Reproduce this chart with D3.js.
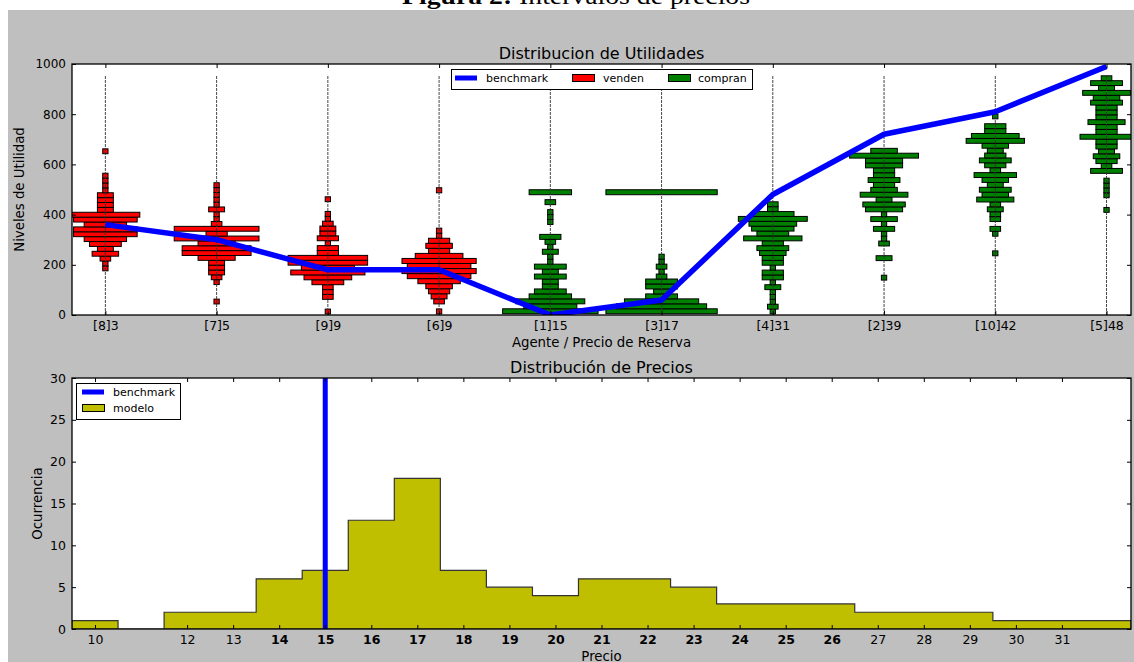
<!DOCTYPE html>
<html>
<head>
<meta charset="utf-8">
<script src="https://cdn.jsdelivr.net/npm/d3@7/dist/d3.min.js"></script>
<style>
  body { margin: 0; background: #fff; }
  svg { display: block; font-family: "DejaVu Sans", sans-serif; }
  .tick text { fill: #000; }
</style>
</head>
<body>
<div id="chart"></div>
<script>
// ---- data: top panel (utility distribution per agent) ----
var agents = ['[8]3', '[7]5', '[9]9', '[6]9', '[1]15', '[3]17', '[4]31', '[2]39', '[10]42', '[5]48']
var roles = ['venden', 'venden', 'venden', 'venden', 'compran', 'compran', 'compran', 'compran', 'compran', 'compran']
var benchmark = [360, 300, 180, 180, 0, 60, 480, 720, 810, 990]
// histogram range of each agent (utility), counts listed bottom -> top
var binLo = [176, 44, 4, 4, 5, 5, 4, 139, 236, 409]
var binHi = [662, 527, 471, 507, 499, 499, 451, 664, 801, 953]
var binCounts = [
  [1, 1, 2, 5, 3, 6, 8, 12, 12, 8, 12, 13, 3, 3, 3, 3, 1, 1, 1, 1, 0, 0, 0, 0, 1],
  [1, 0, 0, 0, 1, 2, 3, 3, 3, 7, 13, 13, 7, 16, 4, 16, 2, 1, 1, 3, 1, 1, 1, 1, 1],
  [1, 0, 0, 2, 2, 2, 6, 9, 14, 10, 15, 15, 4, 4, 1, 4, 3, 3, 2, 1, 1, 0, 0, 1],
  [1, 0, 2, 3, 4, 5, 8, 12, 14, 12, 14, 9, 4, 5, 4, 1, 1, 0, 0, 0, 0, 0, 0, 0, 1],
  [18, 10, 13, 8, 6, 3, 3, 6, 3, 6, 1, 1, 3, 1, 2, 4, 0, 0, 1, 1, 1, 0, 2, 0, 8],
  [21, 17, 14, 6, 3, 6, 6, 2, 1, 2, 1, 1, 0, 0, 0, 0, 0, 0, 0, 0, 0, 0, 0, 0, 21],
  [1, 2, 1, 1, 1, 3, 1, 4, 4, 1, 4, 4, 5, 6, 4, 11, 6, 8, 9, 13, 8, 2, 2],
  [1, 0, 0, 0, 3, 0, 0, 2, 1, 1, 4, 1, 5, 1, 7, 8, 3, 9, 5, 4, 6, 4, 4, 7, 7, 13, 5],
  [1, 0, 0, 0, 1, 2, 0, 2, 2, 3, 2, 7, 5, 6, 3, 5, 8, 2, 4, 6, 4, 3, 5, 11, 9, 4, 4, 0, 1],
  [1, 0, 0, 1, 1, 1, 1, 0, 6, 2, 4, 5, 3, 4, 4, 10, 4, 4, 7, 4, 4, 4, 6, 5, 9, 3, 6, 2]
]
var beanTop = 955
var utilTicks = [0, 200, 400, 600, 800, 1000]

// ---- data: bottom panel (price distribution) ----
var prices = [10, 11, 12, 13, 14, 15, 16, 17, 18, 19, 20, 21, 22, 23, 24, 25, 26, 27, 28, 29, 30, 31, 32]
var priceCounts = [1, 0, 2, 2, 6, 7, 13, 18, 7, 5, 4, 6, 6, 5, 3, 3, 3, 2, 2, 2, 1, 1, 1]
var priceTicks = [10, 12, 13, 14, 15, 16, 17, 18, 19, 20, 21, 22, 23, 24, 25, 26, 27, 28, 29, 30, 31]
var benchmarkPrice = 15
var countTicks = [0, 5, 10, 15, 20, 25, 30]

var W = 1134, H = 662
var svg = d3.select('#chart').append('svg')
  .attr('width', W).attr('height', H)

svg.append('rect').attr('x', 8).attr('y', 10).attr('width', W - 8).attr('height', H - 10).attr('fill', '#bfbfbf')

// figure caption, cut at the top of the page
var cap = svg.append('text')
  .attr('x', 402).attr('y', 4)
  .attr('textLength', 348).attr('lengthAdjust', 'spacingAndGlyphs')
  .style('font-family', '"Liberation Serif", "DejaVu Serif", serif')
  .style('font-size', '23px')
cap.append('tspan').style('font-weight', 'bold').text('Figura 2:')
cap.append('tspan').text(' Intervalos de precios')

var defs = svg.append('defs')

function frame(g, x0, y0, w, h, id) {
  defs.append('clipPath').attr('id', id)
    .append('rect').attr('x', x0).attr('y', y0).attr('width', w).attr('height', h)
  g.append('rect').attr('x', x0).attr('y', y0).attr('width', w).attr('height', h).attr('fill', '#fff')
}

function styleAxis(sel, fs) {
  sel.select('.domain').remove()
  sel.selectAll('.tick line').attr('stroke', '#000')
  sel.selectAll('.tick text').style('font-size', fs + 'px').style('font-family', '"DejaVu Sans", sans-serif')
}

// ================= top panel =================
var mTop = { l: 72, t: 64, r: 1131, b: 315 }
var gTop = svg.append('g')
frame(gTop, mTop.l, mTop.t, mTop.r - mTop.l, mTop.b - mTop.t, 'clipTop')

var x = d3.scaleLinear().domain([0.7, 10.22]).range([mTop.l, mTop.r])
var y = d3.scaleLinear().domain([0, 1000]).range([mTop.b, mTop.t])
var w = d3.scaleLinear().domain([0, 1]).range([0, 5.3])
var color = d3.scaleOrdinal().domain(['venden', 'compran']).range(['#ff0000', '#008000'])

var plotTop = gTop.append('g').attr('clip-path', 'url(#clipTop)')

agents.forEach(function(name, a) {
  var counts = binCounts[a]
  var step = (binHi[a] - binLo[a]) / counts.length
  var cx = x(a + 1)
  var bins = counts.map(function(c, i) {
    return { c: c, v0: binLo[a] + i * step, v1: binLo[a] + (i + 1) * step }
  }).filter(function(d) { return d.c > 0 })

  plotTop.append('g').selectAll('rect')
    .data(bins)
    .enter().append('rect')
    .attr('x', function(d) { return cx - w(d.c) / 2 })
    .attr('width', function(d) { return w(d.c) })
    .attr('y', function(d) { return y(d.v1) })
    .attr('height', function(d) { return y(d.v0) - y(d.v1) })
    .attr('fill', color(roles[a]))
    .attr('stroke', '#000')
    .attr('stroke-width', 1)
})

plotTop.append('g').selectAll('line')
  .data(agents)
  .enter().append('line')
  .attr('x1', function(d, i) { return x(i + 1) })
  .attr('x2', function(d, i) { return x(i + 1) })
  .attr('y1', y(0))
  .attr('y2', y(beanTop))
  .attr('stroke', '#333')
  .attr('stroke-width', 0.9)
  .attr('stroke-dasharray', '3,1')

// legend (white box hides the lines under it)
var lg = gTop.append('g')
lg.append('rect').attr('x', 451.5).attr('y', 69.5).attr('width', 301).attr('height', 20)
  .attr('fill', '#fff').attr('stroke', '#000')
lg.append('line').attr('x1', 455).attr('x2', 477).attr('y1', 78).attr('y2', 78)
  .attr('stroke', '#0000ff').attr('stroke-width', 5)
lg.append('text').attr('x', 486).attr('y', 82).style('font-size', '11px').text('benchmark')
lg.append('rect').attr('x', 572.5).attr('y', 74.5).attr('width', 22).attr('height', 7)
  .attr('fill', color('venden')).attr('stroke', '#000')
lg.append('text').attr('x', 603).attr('y', 82).style('font-size', '11px').text('venden')
lg.append('rect').attr('x', 668.5).attr('y', 74.5).attr('width', 22).attr('height', 7)
  .attr('fill', color('compran')).attr('stroke', '#000')
lg.append('text').attr('x', 698).attr('y', 82).style('font-size', '11px').text('compran')

plotTop.append('path')
  .datum(benchmark)
  .attr('fill', 'none')
  .attr('stroke', '#0000ff')
  .attr('stroke-width', 5.5)
  .attr('stroke-linejoin', 'round')
  .attr('d', d3.line().x(function(d, i) { return x(i + 1) }).y(function(d) { return y(d) }))

var catTicks = agents.map(function(d, i) { return i + 1 })
gTop.append('g').attr('transform', 'translate(0,' + mTop.b + ')')
  .call(d3.axisBottom(x).tickValues(catTicks).tickFormat(function(d) { return agents[d - 1] })
    .tickSizeInner(-4).tickSizeOuter(0).tickPadding(6))
  .call(styleAxis, 12.5)
gTop.append('g').attr('transform', 'translate(0,' + mTop.t + ')')
  .call(d3.axisTop(x).tickValues(catTicks).tickFormat('').tickSizeInner(-4).tickSizeOuter(0))
  .call(styleAxis, 12)
gTop.append('g').attr('transform', 'translate(' + mTop.l + ',0)')
  .call(d3.axisLeft(y).tickValues(utilTicks).tickFormat(d3.format('d'))
    .tickSizeInner(-4).tickSizeOuter(0).tickPadding(6))
  .call(styleAxis, 12)
gTop.append('g').attr('transform', 'translate(' + mTop.r + ',0)')
  .call(d3.axisRight(y).tickValues(utilTicks).tickFormat('').tickSizeInner(-4).tickSizeOuter(0))
  .call(styleAxis, 12)
gTop.append('rect').attr('x', mTop.l).attr('y', mTop.t).attr('width', mTop.r - mTop.l).attr('height', mTop.b - mTop.t)
  .attr('fill', 'none').attr('stroke', '#000').attr('stroke-width', 1.3)

gTop.append('text').attr('x', (mTop.l + mTop.r) / 2).attr('y', 58.5).attr('text-anchor', 'middle')
  .style('font-size', '16px').text('Distribucion de Utilidades')
gTop.append('text').attr('x', (mTop.l + mTop.r) / 2).attr('y', 347).attr('text-anchor', 'middle')
  .style('font-size', '13.3px').text('Agente / Precio de Reserva')
gTop.append('text').attr('transform', 'translate(23.5,' + (mTop.t + mTop.b) / 2 + ') rotate(-90)')
  .attr('text-anchor', 'middle').style('font-size', '13.3px').text('Niveles de Utilidad')

// ================= bottom panel =================
var mBot = { l: 72, t: 378, r: 1131, b: 629 }
var gBot = svg.append('g')
frame(gBot, mBot.l, mBot.t, mBot.r - mBot.l, mBot.b - mBot.t, 'clipBot')

var xp = d3.scaleLinear().domain([9.5, 32.5]).range([mBot.l, mBot.r])
var yp = d3.scaleLinear().domain([0, 30]).range([mBot.b, mBot.t])
var plotBot = gBot.append('g').attr('clip-path', 'url(#clipBot)')

// step-filled histogram outline
var pts = [[prices[0] - 0.5, 0]]
prices.forEach(function(p, i) {
  pts.push([p - 0.5, priceCounts[i]])
  pts.push([p + 0.5, priceCounts[i]])
})
pts.push([prices[prices.length - 1] + 0.5, 0])
plotBot.append('path')
  .datum(pts)
  .attr('fill', '#bfbf00')
  .attr('stroke', '#333')
  .attr('stroke-width', 1.2)
  .attr('d', d3.line().x(function(d) { return xp(d[0]) }).y(function(d) { return yp(d[1]) }).curve(d3.curveLinearClosed))

plotBot.append('line')
  .attr('x1', xp(benchmarkPrice)).attr('x2', xp(benchmarkPrice))
  .attr('y1', yp(0)).attr('y2', yp(30))
  .attr('stroke', '#0000ff').attr('stroke-width', 5)

var lb = gBot.append('g')
lb.append('rect').attr('x', 76.5).attr('y', 383.5).attr('width', 104).attr('height', 36)
  .attr('fill', '#fff').attr('stroke', '#000')
lb.append('line').attr('x1', 82).attr('x2', 104).attr('y1', 392).attr('y2', 392)
  .attr('stroke', '#0000ff').attr('stroke-width', 5)
lb.append('text').attr('x', 113).attr('y', 396).style('font-size', '11px').text('benchmark')
lb.append('rect').attr('x', 82.5).attr('y', 404.5).attr('width', 22).attr('height', 7)
  .attr('fill', '#bfbf00').attr('stroke', '#000')
lb.append('text').attr('x', 113).attr('y', 412).style('font-size', '11px').text('modelo')

gBot.append('g').attr('transform', 'translate(0,' + mBot.b + ')')
  .call(d3.axisBottom(xp).tickValues(priceTicks).tickFormat(d3.format('d'))
    .tickSizeInner(-4).tickSizeOuter(0).tickPadding(6))
  .call(styleAxis, 12.5)
  .selectAll('.tick text')
  .style('font-weight', function(d) { return priceCounts[prices.indexOf(d)] >= 3 ? 'bold' : 'normal' })
gBot.append('g').attr('transform', 'translate(0,' + mBot.t + ')')
  .call(d3.axisTop(xp).tickValues(priceTicks).tickFormat('').tickSizeInner(-4).tickSizeOuter(0))
  .call(styleAxis, 12)
gBot.append('g').attr('transform', 'translate(' + mBot.l + ',0)')
  .call(d3.axisLeft(yp).tickValues(countTicks).tickSizeInner(-4).tickSizeOuter(0).tickPadding(6))
  .call(styleAxis, 12.5)
gBot.append('g').attr('transform', 'translate(' + mBot.r + ',0)')
  .call(d3.axisRight(yp).tickValues(countTicks).tickFormat('').tickSizeInner(-4).tickSizeOuter(0))
  .call(styleAxis, 12)
gBot.append('rect').attr('x', mBot.l).attr('y', mBot.t).attr('width', mBot.r - mBot.l).attr('height', mBot.b - mBot.t)
  .attr('fill', 'none').attr('stroke', '#000').attr('stroke-width', 1.3)

gBot.append('text').attr('x', (mBot.l + mBot.r) / 2).attr('y', 372.5).attr('text-anchor', 'middle')
  .style('font-size', '16px').text('Distribución de Precios')
gBot.append('text').attr('x', (mBot.l + mBot.r) / 2).attr('y', 661).attr('text-anchor', 'middle')
  .style('font-size', '13.3px').text('Precio')
gBot.append('text').attr('transform', 'translate(41.5,' + (mBot.t + mBot.b) / 2 + ') rotate(-90)')
  .attr('text-anchor', 'middle').style('font-size', '13.3px').text('Ocurrencia')
</script>
</body>
</html>
